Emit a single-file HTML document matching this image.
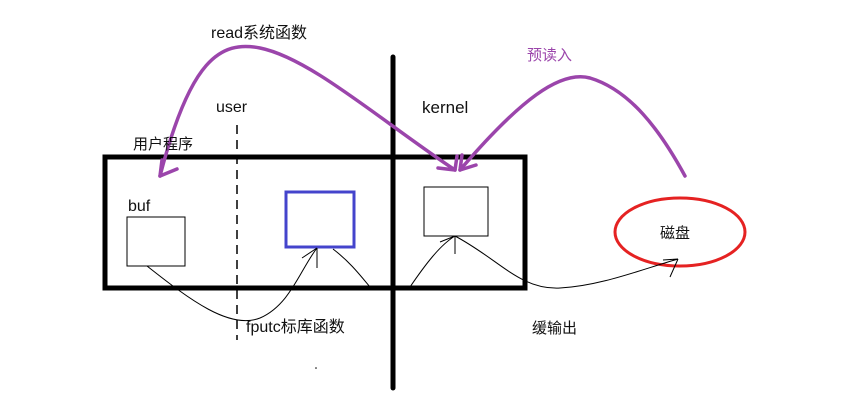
<!DOCTYPE html>
<html><head><style>
body{margin:0;background:#fff;width:845px;height:415px;overflow:hidden}
svg{display:block}
text{font-family:"Liberation Sans","Noto Sans CJK SC",sans-serif;font-size:16px;fill:#111}
</style></head><body>
<svg width="845" height="415" viewBox="0 0 845 415">
<rect x="105" y="157" width="420" height="131" fill="none" stroke="#000" stroke-width="5"/>
<line x1="393" y1="57" x2="393" y2="388" stroke="#000" stroke-width="5" stroke-linecap="round"/>
<line x1="237" y1="125" x2="237" y2="340" stroke="#000" stroke-width="1.5" stroke-dasharray="9,6"/>
<rect x="127" y="217" width="58" height="49" fill="none" stroke="#000" stroke-width="1"/>
<rect x="286" y="192" width="68" height="55" fill="none" stroke="#4444cc" stroke-width="3"/>
<rect x="424" y="187" width="64" height="49" fill="none" stroke="#000" stroke-width="1"/>
<ellipse cx="680" cy="232" rx="65" ry="34" fill="none" stroke="#e52222" stroke-width="3"/>
<g fill="none" stroke="#9b45ab" stroke-width="3.5" stroke-linecap="round">
<path d="M160 176 C190 60 220 40 260 48 C310 58 380 120 455 170"/>
<path d="M160 176 L177 169 M160 176 L162 160"/>
<path d="M455 170 L438 168 M455 170 L457 156"/>
<path d="M460 170 C520 100 560 70 590 78 C630 90 660 130 685 176"/>
<path d="M460 170 L476 165 M460 170 L462 155"/>
</g>
<g fill="none" stroke="#000" stroke-width="1">
<path d="M147 266 C190 300 230 330 260 318 C290 305 300 270 317 248"/>
<path d="M317 248 L302 258 M317 248 L317 268"/>
<path d="M282 249 C300 262 320 280 320 287" stroke="none"/>
<path d="M333 249 C350 262 360 275 370 287"/>
<path d="M410 287 C425 265 440 245 455 236 M455 236 L440 242 M455 236 L455 254"/>
<path d="M455 236 C500 260 520 290 560 288 C600 286 640 270 678 259 M678 259 L663 260 M678 259 L670 277"/>
</g>
<text x="211" y="38">read系统函数</text>
<text x="216" y="112">user</text>
<text x="422" y="113" style="font-size:17px">kernel</text>
<text x="133" y="149" style="font-size:15px">用户程序</text>
<text x="527" y="60" style="fill:#9b45ab;font-size:15px">预读入</text>
<text x="128" y="211">buf</text>
<text x="660" y="238" style="font-size:15px">磁盘</text>
<text x="246" y="332">fputc标库函数</text>
<text x="532" y="333" style="font-size:15px">缓输出</text>
<circle cx="316" cy="368" r="0.8" fill="#000"/>
</svg>
</body></html>
